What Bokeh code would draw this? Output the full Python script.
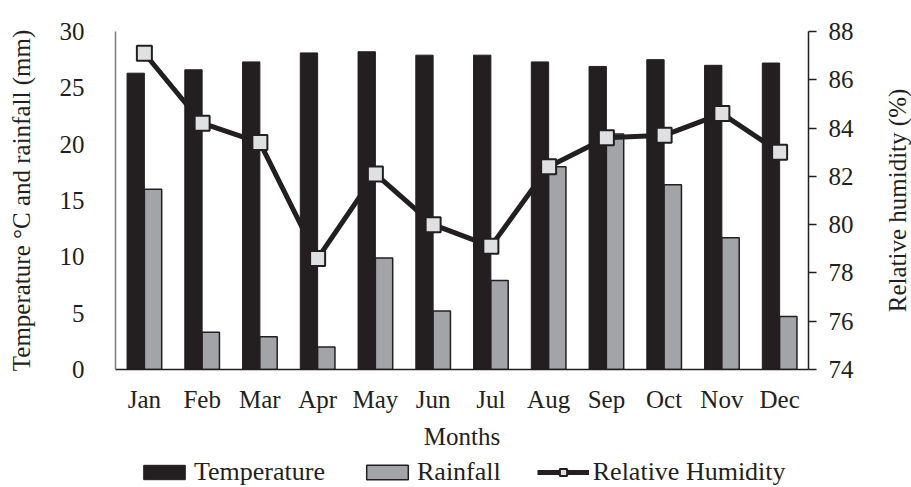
from bokeh.plotting import figure
from bokeh.layouts import column, row
from bokeh.models import (FactorRange, Range1d, LinearAxis, FixedTicker, Legend, LegendItem,
                          ColumnDataSource)
from bokeh.transform import dodge
from bokeh.embed import file_html
from bokeh.resources import INLINE

months = ["Jan", "Feb", "Mar", "Apr", "May", "Jun", "Jul", "Aug", "Sep", "Oct", "Nov", "Dec"]
temperature = [26.3, 26.6, 27.3, 28.1, 28.2, 27.9, 27.9, 27.3, 26.9, 27.5, 27.0, 27.2]
rainfall = [16.0, 3.3, 2.9, 2.0, 9.9, 5.2, 7.9, 18.0, 20.9, 16.4, 11.7, 4.7]
humidity = [87.1, 84.2, 83.4, 78.6, 82.1, 80.0, 79.1, 82.4, 83.6, 83.7, 84.6, 83.0]
left_ticks = [0, 5, 10, 15, 20, 25, 30]
right_ticks = [74, 76, 78, 80, 82, 84, 86, 88]
series_names = ["Temperature", "Rainfall", "Relative Humidity"]

FONT = "Liberation Serif"
DARK = "#231f20"
TEMP_COLOR = DARK
RAIN_COLOR = "#a3a4a8"
MARKER_FILL = "#dfe0e2"

src = ColumnDataSource(dict(month=months, temp=temperature, rain=rainfall, hum=humidity))


def add_series(fig):
    r1 = fig.vbar(x=dodge("month", -0.15, range=fig.x_range), top="temp", width=0.3, source=src,
                  fill_color=TEMP_COLOR, line_color=DARK)
    r2 = fig.vbar(x=dodge("month", 0.15, range=fig.x_range), top="rain", width=0.3, source=src,
                  fill_color=RAIN_COLOR, line_color=DARK, line_width=1.5)
    r3 = fig.line(x="month", y="hum", source=src, y_range_name="hum", line_color=DARK, line_width=5)
    r4 = fig.scatter(x="month", y="hum", source=src, y_range_name="hum", marker="square", size=15,
                     fill_color=MARKER_FILL, line_color=DARK, line_width=2)
    return r1, r2, r3, r4


def style_axis(ax):
    ax.major_label_text_font = FONT
    ax.major_label_text_font_size = "25px"
    ax.major_label_text_color = DARK
    ax.axis_label_text_font = FONT
    ax.axis_label_text_font_size = "25px"
    ax.axis_label_text_font_style = "normal"
    ax.axis_label_text_color = DARK


p = figure(x_range=FactorRange(*months), y_range=Range1d(0, 30),
           frame_width=693, frame_height=338, output_backend="svg", toolbar_location=None,
           min_border_left=115, min_border_right=72, min_border_top=31, min_border_bottom=88)
p.extra_y_ranges = {"hum": Range1d(74, 88)}
p.outline_line_color = None
p.xgrid.grid_line_color = None
p.ygrid.grid_line_color = None
p.x_range.range_padding = 0
add_series(p)

# left axis
ya = p.yaxis[0]
ya.ticker = FixedTicker(ticks=left_ticks)
ya.axis_label = "Temperature °C and rainfall (mm)"
ya.axis_line_color = "#7a7b7e"
ya.axis_line_width = 1.5
ya.major_tick_line_color = None
ya.minor_tick_line_color = None
ya.major_label_standoff = 25
ya.axis_label_standoff = 22

# right axis (ticks and numbers)
ra = LinearAxis(y_range_name="hum", ticker=FixedTicker(ticks=right_ticks))
ra.axis_line_color = DARK
ra.axis_line_width = 1.5
ra.major_tick_line_color = DARK
ra.major_tick_line_width = 1.5
ra.major_tick_out = 8
ra.major_tick_in = 0
ra.minor_tick_line_color = None
ra.major_label_standoff = 12
p.add_layout(ra, "right")

xa = p.xaxis[0]
xa.axis_label = "Months"
xa.axis_line_color = DARK
xa.axis_line_width = 1.5
xa.major_tick_line_color = None
xa.minor_tick_line_color = None
xa.major_label_standoff = 10
xa.axis_label_standoff = 7

for ax in (ya, ra, xa):
    style_axis(ax)

# right-hand title strip: a bare axis whose title reads bottom-to-top
rt = figure(frame_width=2, frame_height=338, x_range=Range1d(0, 1), y_range=Range1d(74, 88),
            x_axis_type=None, output_backend="svg", toolbar_location=None,
            min_border_left=0, min_border_right=0, min_border_top=12, min_border_bottom=0)
rt.outline_line_color = None
rt.xgrid.grid_line_color = None
rt.ygrid.grid_line_color = None
ta = rt.yaxis[0]
ta.ticker = FixedTicker(ticks=[])
ta.axis_line_color = None
ta.major_tick_line_color = None
ta.minor_tick_line_color = None
ta.major_tick_out = 0
ta.major_label_standoff = 0
ta.axis_label_standoff = 0
ta.axis_label = "Relative humidity (%)"
style_axis(ta)

# legend strip below the chart (series drawn hidden, only their legend swatches show)
lg = figure(width=911, height=30, x_range=FactorRange(*months), y_range=Range1d(0, 30),
            x_axis_type=None, y_axis_type=None, output_backend="svg", toolbar_location=None,
            min_border=0)
lg.extra_y_ranges = {"hum": Range1d(74, 88)}
lg.outline_line_color = None
lg.xgrid.grid_line_color = None
lg.ygrid.grid_line_color = None
g1, g2, g3, g4 = add_series(lg)
for g in (g1, g2, g3, g4):
    g.visible = False
legend = Legend(items=[LegendItem(label=series_names[0], renderers=[g1]),
                       LegendItem(label=series_names[1], renderers=[g2]),
                       LegendItem(label=series_names[2], renderers=[g3, g4])],
                orientation="horizontal", location=(138, 0),
                label_text_font=FONT, label_text_font_size="26px", label_text_color=DARK,
                glyph_width=52, glyph_height=18, label_standoff=4, spacing=36,
                padding=0, margin=0, border_line_color=None, background_fill_alpha=0,
                inactive_fill_alpha=0)
lg.add_layout(legend, "center")

layout = column(row(p, rt, spacing=0), lg, spacing=0)
open("out.html", "w").write(file_html(layout, INLINE))
